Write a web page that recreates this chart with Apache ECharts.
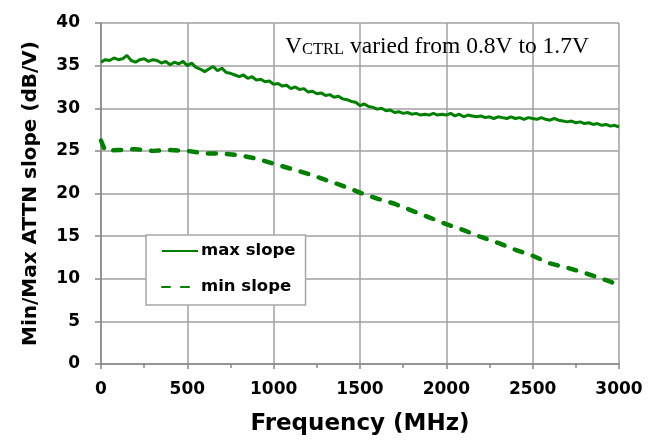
<!DOCTYPE html>
<html>
<head>
<meta charset="utf-8">
<script src="https://cdn.jsdelivr.net/npm/echarts@6/dist/echarts.min.js"></script>
<style>html,body{margin:0;padding:0;background:#fff}#c{width:660px;height:441px}</style>
</head>
<body>
<div id="c"></div>
<script>
// Data
var maxFreq = [0,25,50,75,100,125,150,175,200,225,250,275,300,325,350,375,400,425,450,475,
  500,525,550,575,600,625,650,675,700,725,750,775,800,825,850,875,900,925,950,975,
  1000,1025,1050,1075,1100,1125,1150,1175,1200,1225,1250,1275,1300,1325,1350,1375,1400,1425,1450,1475,
  1500,1525,1550,1575,1600,1625,1650,1675,1700,1725,1750,1775,1800,1825,1850,1875,1900,1925,1950,1975,
  2000,2025,2050,2075,2100,2125,2150,2175,2200,2225,2250,2275,2300,2325,2350,2375,2400,2425,2450,2475,
  2500,2525,2550,2575,2600,2625,2650,2675,2700,2725,2750,2775,2800,2825,2850,2875,2900,2925,2950,2975,3000];
var maxSlope = [35.4,35.7,35.6,35.9,35.7,35.8,36.2,35.6,35.4,35.7,35.8,35.5,35.7,35.6,35.3,35.5,35.1,35.4,35.2,35.5,
  35.0,35.3,34.8,34.6,34.3,34.6,34.9,34.4,34.7,34.2,34.1,33.9,33.7,33.9,33.5,33.7,33.3,33.4,33.1,33.2,
  32.8,32.9,32.6,32.7,32.3,32.5,32.2,32.3,31.9,32.0,31.7,31.8,31.5,31.6,31.3,31.4,31.1,31.0,30.8,30.7,
  30.3,30.5,30.2,30.1,29.9,30.0,29.7,29.8,29.5,29.6,29.4,29.5,29.3,29.4,29.2,29.3,29.2,29.4,29.2,29.3,
  29.2,29.4,29.1,29.3,29.0,29.2,29.1,29.0,29.1,28.9,29.0,28.8,29.0,28.9,28.8,29.0,28.8,28.9,28.7,28.9,
  28.8,28.7,28.9,28.7,28.6,28.8,28.6,28.5,28.4,28.5,28.3,28.4,28.2,28.3,28.1,28.2,28.0,28.1,27.9,28.0,27.8];
var minFreq = [0,25,100,200,300,400,500,600,700,800,900,1000,1100,1200,1300,1400,1500,1600,1700,1800,1900,
  2000,2100,2200,2300,2400,2500,2600,2700,2800,2900,3000];
var minSlope = [26.2,25.0,25.1,25.2,25.0,25.1,25.0,24.7,24.7,24.5,24.1,23.5,22.9,22.3,21.6,20.9,20.1,19.4,18.8,18.0,17.2,
  16.4,15.7,14.9,14.2,13.4,12.7,11.8,11.3,10.7,10.0,9.3];
var seriesNames = ['max slope', 'min slope'];
var xTicks = [0, 3000, 500];
var yTicks = [0, 40, 5];
var xTitle = 'Frequency (MHz)';
var yTitle = 'Min/Max ATTN slope (dB/V)';

function pairs(xs, ys) { return xs.map(function (x, i) { return [x, ys[i]]; }); }

var green = '#008000';
var gridColor = '#a0a0a0';
var chart = echarts.init(document.getElementById('c'), null, {renderer: 'canvas'});
chart.setOption({
  animation: false,
  backgroundColor: '#fff',
  grid: {left: 101, right: 41, top: 23, bottom: 74},
  xAxis: {
    type: 'value', min: xTicks[0], max: xTicks[1], interval: xTicks[2],
    name: xTitle, nameLocation: 'middle', nameGap: 49, nameMoveOverlap: false,
    nameTextStyle: {fontFamily: 'DejaVu Sans', fontWeight: 'bold', fontSize: 23, color: '#000'},
    axisLine: {show: true, lineStyle: {color: '#888', width: 1.5}},
    axisTick: {show: true, length: 5, lineStyle: {color: '#888', width: 1.5}},
    minorTick: {show: true, splitNumber: 2, length: 4, lineStyle: {color: '#888', width: 1.5}},
    axisLabel: {margin: 17, fontFamily: 'DejaVu Sans', fontWeight: 'bold', fontSize: 17, color: '#000',
      formatter: function (v) { return String(v); }},
    splitLine: {show: true, lineStyle: {color: gridColor, width: 1.5}}
  },
  yAxis: {
    type: 'value', min: yTicks[0], max: yTicks[1], interval: yTicks[2],
    name: yTitle, nameLocation: 'middle', nameGap: 60, nameRotate: 90,
    nameTextStyle: {fontFamily: 'DejaVu Sans', fontWeight: 'bold', fontSize: 20, color: '#000'},
    axisLine: {show: true, lineStyle: {color: '#888', width: 1.5}},
    axisTick: {show: true, length: 6, lineStyle: {color: '#888', width: 1.5}},
    axisLabel: {margin: 21, fontFamily: 'DejaVu Sans', fontWeight: 'bold', fontSize: 17, color: '#000',
      formatter: function (v) { return String(v); }},
    splitLine: {show: true, lineStyle: {color: gridColor, width: 1.5}}
  },
  legend: {
    orient: 'vertical', left: 146, top: 235,
    padding: [6, 10, 8, 15], itemGap: 16, itemWidth: 36, itemHeight: 14,
    borderColor: '#a6a6a6', borderWidth: 1.5, backgroundColor: '#fff',
    itemStyle: {opacity: 0},
    textStyle: {fontFamily: 'DejaVu Sans', fontWeight: 'bold', fontSize: 16.5, color: '#000', lineHeight: 20, padding: [0,0,0,-2]},
    data: seriesNames
  },
  graphic: [{
    type: 'text', left: 285, top: 35, z: 100,
    style: {
      text: '{a|V}{s|CTRL}{a| varied from 0.8V to 1.7V}',
      rich: {
        a: {fontFamily: 'Liberation Serif', fontSize: 23.5, fill: '#000', verticalAlign: 'bottom', lineHeight: 24},
        s: {fontFamily: 'Liberation Serif', fontSize: 16.5, fill: '#000', verticalAlign: 'bottom', lineHeight: 24, padding: [0,0,1,0]}
      }
    }
  }],
  series: [{
    name: seriesNames[0], type: 'line', data: pairs(maxFreq, maxSlope),
    showSymbol: false, symbol: 'none', smooth: false,
    lineStyle: {color: green, width: 3}, itemStyle: {color: green}
  }, {
    name: seriesNames[1], type: 'line', data: pairs(minFreq, minSlope),
    showSymbol: false, symbol: 'none', smooth: false,
    lineStyle: {color: green, width: 4.5, type: [8, 11], cap: 'round'}, itemStyle: {color: green}
  }]
});
</script>
</body>
</html>
